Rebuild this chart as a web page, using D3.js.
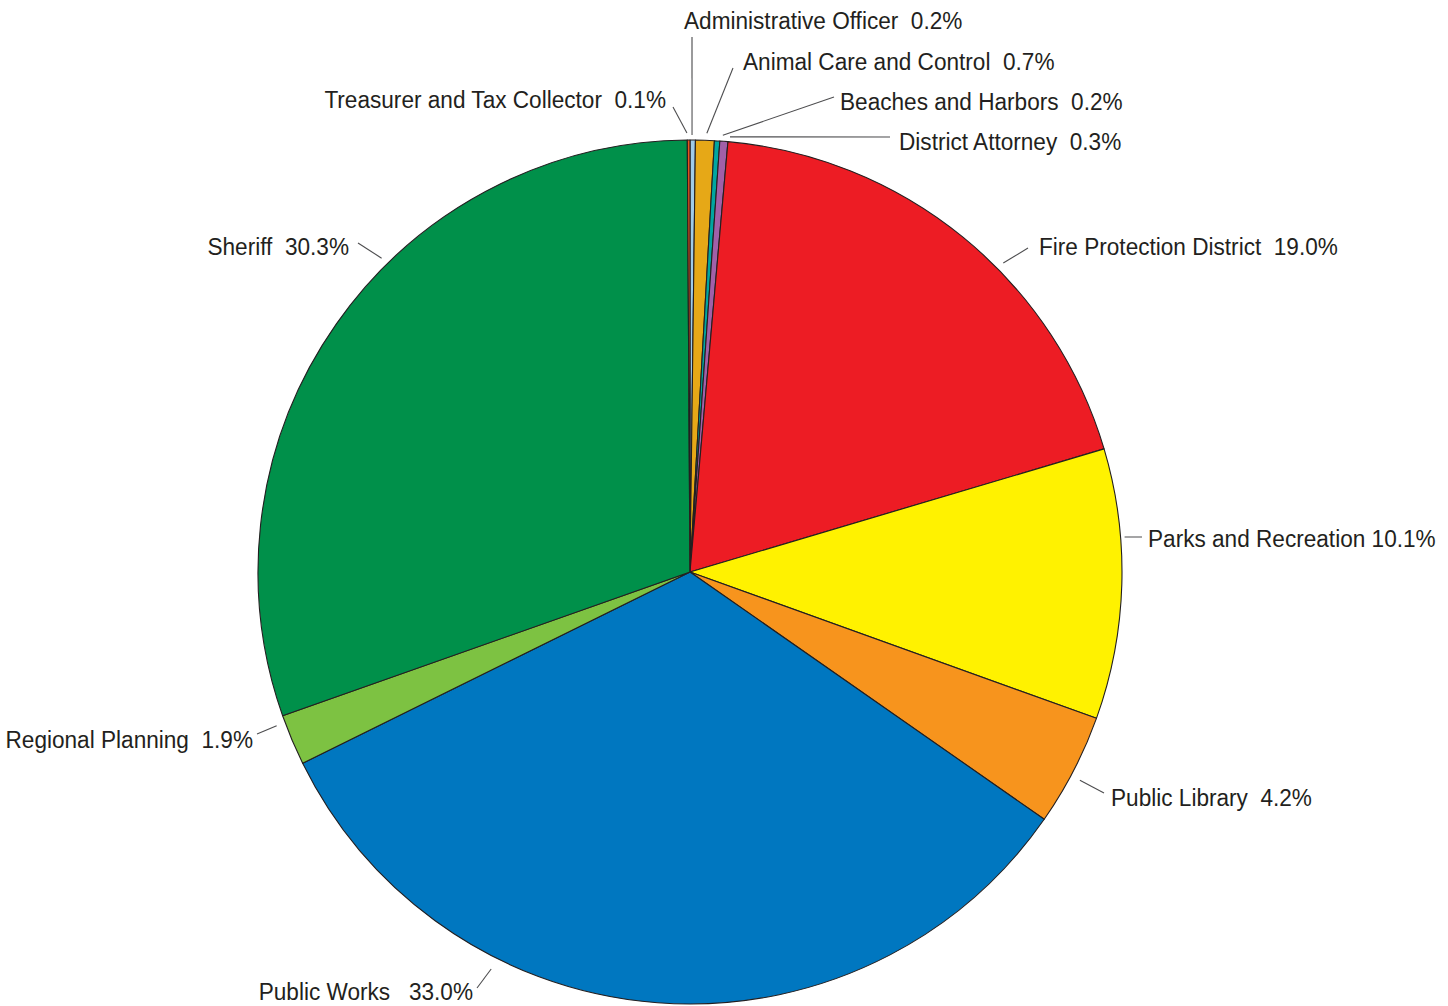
<!DOCTYPE html>
<html>
<head>
<meta charset="utf-8">
<script src="https://cdn.jsdelivr.net/npm/d3@7"></script>
<style>
  html, body { margin: 0; padding: 0; background: #ffffff; }
  svg text { font-family: "Liberation Sans", Arial, Helvetica, sans-serif; fill: #231f20; white-space: pre; }
</style>
</head>
<body>
<svg id="chart" width="1448" height="1006"></svg>
<script>
// Departments, clockwise from 12 o'clock
const departments = [
  "Administrative Officer", "Animal Care and Control", "Beaches and Harbors",
  "District Attorney", "Fire Protection District", "Parks and Recreation",
  "Public Library", "Public Works", "Regional Planning", "Sheriff",
  "Treasurer and Tax Collector"
];
// Share of total, percent
const shares = [0.2, 0.7, 0.2, 0.3, 19.0, 10.1, 4.2, 33.0, 1.9, 30.3, 0.1];
const colors = [
  "#9fcbe9", "#e6a817", "#00a6a0", "#a160a8", "#ed1c24", "#fff200",
  "#f7941d", "#0077c0", "#7dc242", "#00904a", "#e8541e"
];

const cx = 690, cy = 572, R = 432;
const fontSize = 23.5;
// Condensed lettering: labels are narrowed horizontally so the widest
// reference label spans this many pixels.
const refLabelWidth = 299;

// Label placement: text anchor point, leader inner end (angle in degrees clockwise
// from top, radius) and leader outer end.
const labelLayout = [
  { tx: 684,  ty: 29,   anchor: "start", gap: "  ", a: 0.27,  r: 437, ox: 692,  oy: 37  },
  { tx: 743,  ty: 70,   anchor: "start", gap: "  ", a: 2.2,   r: 439, ox: 733,  oy: 68  },
  { tx: 840,  ty: 110,  anchor: "start", gap: "  ", a: 4.3,   r: 438, ox: 834,  oy: 97  },
  { tx: 899,  ty: 150,  anchor: "start", gap: "  ", a: 5.25,  r: 437, ox: 890,  oy: 137 },
  { tx: 1039, ty: 255,  anchor: "start", gap: "  ", a: 45.4,  r: 440, ox: 1028, oy: 248 },
  { tx: 1148, ty: 547,  anchor: "start", gap: " ",  a: 85.4,  r: 436, ox: 1142, oy: 537 },
  { tx: 1111, ty: 806,  anchor: "start", gap: "  ", a: 118.1, r: 442, ox: 1104, oy: 793 },
  { tx: 473,  ty: 1000, anchor: "end",   gap: "   ", a: 206.6, r: 444, ox: 477,  oy: 988 },
  { tx: 253,  ty: 748,  anchor: "end",   gap: "  ", a: 249.6, r: 441, ox: 257,  oy: 734 },
  { tx: 349,  ty: 255,  anchor: "end",   gap: "  ", a: 315.5, r: 440, ox: 358,  oy: 243 },
  { tx: 666,  ty: 108,  anchor: "end",   gap: "  ", a: 359.6, r: 439, ox: 673,  oy: 107 }
];

const data = departments.map((name, i) => ({ name, value: shares[i], color: colors[i], lay: labelLayout[i] }));

const svg = d3.select("#chart");
const g = svg.append("g").attr("transform", `translate(${cx},${cy})`);

const pie = d3.pie().value(d => d.value).sort(null);
const arc = d3.arc().innerRadius(0).outerRadius(R);

g.selectAll("path.slice")
  .data(pie(data))
  .join("path")
  .attr("class", "slice")
  .attr("d", arc)
  .attr("fill", d => d.data.color)
  .attr("stroke", "#231f20")
  .attr("stroke-width", 1.1)
  .attr("stroke-linejoin", "round");

const polar = (deg, r) => {
  const t = deg * Math.PI / 180;
  return [cx + r * Math.sin(t), cy - r * Math.cos(t)];
};

// Leader lines
svg.selectAll("line.leader")
  .data(data)
  .join("line")
  .attr("class", "leader")
  .attr("x1", d => polar(d.lay.a, d.lay.r)[0])
  .attr("y1", d => polar(d.lay.a, d.lay.r)[1])
  .attr("x2", d => d.lay.ox)
  .attr("y2", d => d.lay.oy)
  .attr("stroke", "#4d4d4f")
  .attr("stroke-width", 1.1);

// Labels
const labels = svg.selectAll("text.label")
  .data(data)
  .join("text")
  .attr("class", "label")
  .attr("x", 0)
  .attr("y", 0)
  .attr("text-anchor", d => d.lay.anchor)
  .attr("font-size", fontSize)
  .text(d => `${d.name}${d.lay.gap}${d.value.toFixed(1)}%`);

// Horizontal squeeze factor, measured from the Fire Protection District label
const fireNode = labels.filter(d => d.name === "Fire Protection District").node();
const k = refLabelWidth / fireNode.getComputedTextLength();
labels.attr("transform", d => `translate(${d.lay.tx},${d.lay.ty}) scale(${k},1)`);
</script>
</body>
</html>
